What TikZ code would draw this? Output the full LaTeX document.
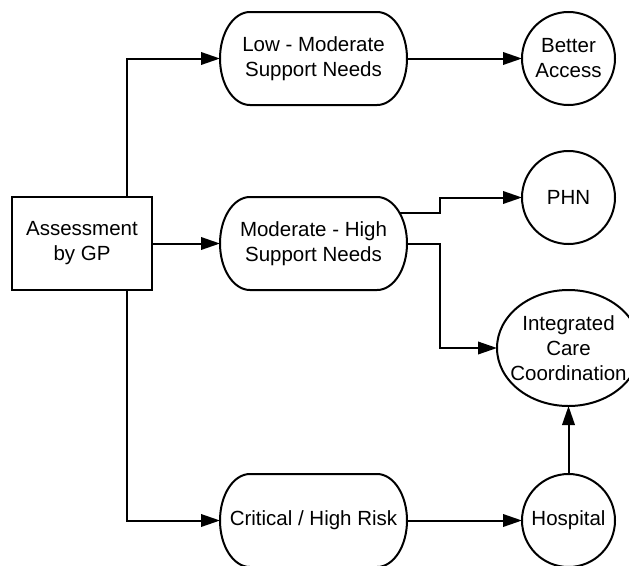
\documentclass[tikz,border=0pt]{standalone}
\usepackage{fontspec}
\setmainfont{Liberation Sans}
\usetikzlibrary{arrows.meta,calc}
\newcommand{\pillpath}[1]{\draw[lw] ([xshift=30pt]#1.north west) -- ([xshift=-30pt]#1.north east) arc[start angle=90,end angle=-90,x radius=30pt,y radius=46.5pt] -- ([xshift=30pt]#1.south west) arc[start angle=270,end angle=90,x radius=30pt,y radius=46.5pt] -- cycle;}
\begin{document}
\begin{tikzpicture}[x=1pt,y=-1pt,
  every node/.style={font=\fontsize{20.5}{25}\selectfont, align=center, inner sep=0pt, outer sep=0pt},
  lw/.style={line width=2pt},
  sqbox/.style={draw, lw, minimum width=140pt, minimum height=93pt},
  pill/.style={minimum width=187pt, minimum height=93pt},
  circ/.style={draw, lw, circle, minimum size=93pt},
  ellbox/.style={minimum width=143pt, minimum height=116pt},
  arr/.style={lw, -{Triangle[length=19pt,width=12.5pt]}}]
\useasboundingbox (0,0) rectangle (629,565);
\fill[white] (0,0) rectangle (629,565);

\node[sqbox] (gp) at (82,243.5) {Assessment\\by GP};
\node[pill] (lm) at (313.5,58.5) {Low - Moderate\\Support Needs};
\node[pill] (mh) at (313.5,243.5) {Moderate - High\\Support Needs};
\node[pill] (cr) at (313.5,520.5) {Critical / High Risk};
\pillpath{lm}
\pillpath{mh}
\pillpath{cr}
\node[circ] (ba) at (568.5,58.5) {Better\\Access};
\node[circ] (phn) at (568.5,197.5) {PHN};
\node[ellbox] (icc) at (568.5,348) {Integrated\\Care\\Coordination};
\draw[lw] (icc.center) ellipse [x radius=71.5pt, y radius=58pt];
\node[circ] (hos) at (568.5,520.5) {Hospital};

\draw[arr] ([xshift=-25pt]gp.north east) |- (lm.west);
\draw[arr] (gp.east) -- (mh.west);
\draw[arr] ([xshift=-25pt]gp.south east) |- (cr.west);
\draw[arr] (lm.east) -- (ba.west);
\draw[arr] ($(mh.east)+(-7,-30.5)$) -- ++(40,0) |- (phn.west);
\draw[arr] (mh.east) -- ++(33,0) |- (icc.west);
\draw[arr] (cr.east) -- (hos.west);
\draw[arr] (hos.north) -- (icc.south);
\end{tikzpicture}
\end{document}
